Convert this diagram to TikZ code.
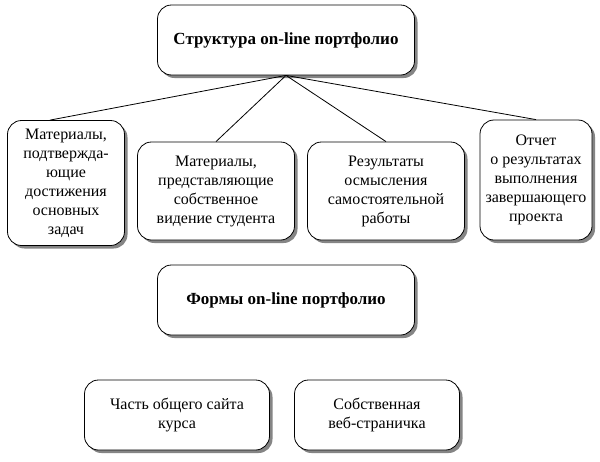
\documentclass[tikz,border=0pt]{standalone}
\usepackage{fontspec}
\setmainfont{Liberation Serif}
\usetikzlibrary{positioning,shadows}
\tikzset{
  box/.style={draw,thick,rounded corners=14pt,fill=white,align=center,
    drop shadow={shadow xshift=3pt,shadow yshift=-3pt,fill=black!60,opacity=.8},
    font=\fontsize{16}{19}\selectfont,inner sep=0pt},
  head/.style={box,font=\fontsize{17}{19}\selectfont\bfseries}
}
\begin{document}
\begin{tikzpicture}[x=1pt,y=-1pt]
  \useasboundingbox (0,0) rectangle (600,461);
  \node[head,minimum width=257pt,minimum height=70pt] (root) at (286,40) {Структура on-line портфолио};
  \node[box,minimum width=117pt,minimum height=125pt] (mat) at (66,183) {Материалы,\\подтвержда-\\ющие\\достижения\\основных\\задач};
  \node[box,minimum width=157pt,minimum height=98pt] (vid) at (216,191) {Материалы,\\представляющие\\собственное\\видение студента};
  \node[box,minimum width=157pt,minimum height=98pt] (res) at (386,191) {Результаты\\осмысления\\самостоятельной\\работы};
  \node[box,minimum width=112pt,minimum height=120pt] (rep) at (536,180) {Отчет\\о результатах\\выполнения\\завершающего\\проекта};
  \node[head,minimum width=257pt,minimum height=70pt] (forms) at (286,300) {Формы on-line портфолио};
  \node[box,minimum width=185pt,minimum height=70pt] (site) at (177,415) {Часть общего сайта\\курса};
  \node[box,minimum width=165pt,minimum height=70pt] (page) at (377,415) {Собственная\\веб-страничка};
  \foreach \n/\xs in {mat/-16,vid/0,res/0,rep/0}
    \draw[thick] (root.south) -- ([xshift=\xs pt]\n.north);
\end{tikzpicture}
\end{document}
